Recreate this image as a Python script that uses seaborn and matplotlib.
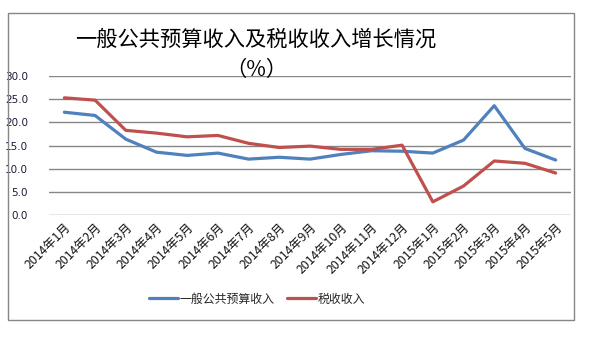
import matplotlib
matplotlib.use("Agg")
import matplotlib.pyplot as plt
import matplotlib.patches as mpatches
import pandas as pd
import seaborn as sns

months = ["2014年1月", "2014年2月", "2014年3月", "2014年4月", "2014年5月", "2014年6月",
          "2014年7月", "2014年8月", "2014年9月", "2014年10月", "2014年11月", "2014年12月",
          "2015年1月", "2015年2月", "2015年3月", "2015年4月", "2015年5月"]
public_budget = [22.2, 21.5, 16.4, 13.6, 12.9, 13.4, 12.1, 12.5, 12.1, 13.1, 13.9, 13.8,
                 13.4, 16.2, 23.6, 14.4, 11.9]
tax_revenue = [25.3, 24.8, 18.3, 17.7, 16.9, 17.2, 15.5, 14.6, 14.9, 14.2, 14.2, 15.1,
               2.9, 6.3, 11.7, 11.2, 9.1]
series_names = ["一般公共预算收入", "税收收入"]
y_ticks = [0, 5, 10, 15, 20, 25, 30]

sns.set_theme(style="white")
plt.rcParams["font.family"] = ["Noto Sans CJK SC", "DejaVu Sans"]

df = pd.DataFrame({
    "month": months * 2,
    "idx": list(range(len(months))) * 2,
    "value": public_budget + tax_revenue,
    "series": [series_names[0]] * len(months) + [series_names[1]] * len(months),
})

fig = plt.figure(figsize=(5.96, 3.38), dpi=100)
W, H = 596, 338
ax = fig.add_axes([49 / W, 1 - 215.3 / H, (571 - 49) / W, (215.3 - 76) / H])

palette = {series_names[0]: "#4F81BD", series_names[1]: "#C0504D"}
sns.lineplot(data=df, x="idx", y="value", hue="series", palette=palette,
             linewidth=2.3, ax=ax, legend=False)

ax.set_xlim(-0.5, len(months) - 0.5)
ax.set_ylim(0, 30)
ax.set_yticks(y_ticks)
ax.set_yticklabels([f"{v:.1f}" for v in y_ticks], fontsize=7.5, color="#1a1a3a",
                   family=["DejaVu Sans"])
ax.set_xticks(range(len(months)))
ax.set_xticklabels(months, rotation=45, ha="right", rotation_mode="anchor",
                   fontsize=8.8, color="#111111")
ax.tick_params(axis="both", length=0, pad=4)
ax.tick_params(axis="y", pad=15)
ax.set_xlabel("")
ax.set_ylabel("")
for s in ax.spines.values():
    s.set_visible(False)
ax.grid(axis="y", color="#868686", linewidth=1)
ax.set_axisbelow(True)

# outer frame of the chart area
fig.patches.append(mpatches.Rectangle((8 / W, 1 - 320 / H), (574 - 8) / W, (320 - 13) / H,
                                      transform=fig.transFigure, fill=False,
                                      edgecolor="#868686", linewidth=1))

fig.text(256 / W, 1 - 40 / H, "一般公共预算收入及税收收入增长情况", ha="center", va="center",
         fontsize=15.3, color="#000000")
fig.text(256 / W, 1 - 70 / H, "（%）", ha="center", va="center",
         fontsize=15.3, color="#000000")

handles = [plt.Line2D([], [], color=palette[n], linewidth=2.3) for n in series_names]
fig.legend(handles, series_names, loc="center", bbox_to_anchor=(257 / W, 1 - 299 / H),
           ncol=2, frameon=False, fontsize=8.6, handlelength=2.4, handletextpad=0.1,
           columnspacing=1.1)

fig.savefig("out.png", dpi=100)
